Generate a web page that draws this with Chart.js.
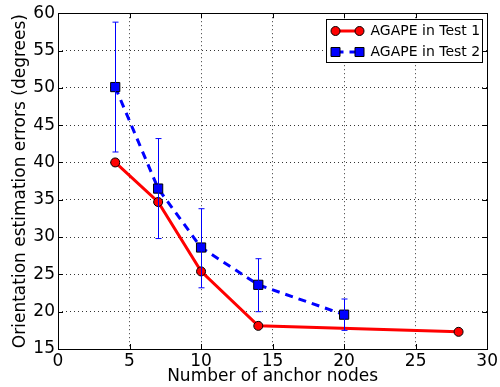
<!DOCTYPE html>
<html>
<head>
<meta charset="utf-8">
<script src="https://cdn.jsdelivr.net/npm/chart.js@4.4.1/dist/chart.umd.min.js"></script>
<style>
  html, body { margin: 0; padding: 0; background: #fff; }
  #wrap { width: 500px; height: 387px; }
</style>
</head>
<body>
<div id="wrap"><canvas id="c"></canvas></div>
<script>
// data
const test1X = [4, 7, 10, 14, 28];
const test1Y = [40.0, 34.7, 25.4, 18.1, 17.3];
const test2X = [4, 7, 10, 14, 20];
const test2Y = [50.1, 36.5, 28.6, 23.6, 19.6];
const test2Lo = [41.4, 29.8, 23.2, 20.0, 17.5];
const test2Hi = [58.8, 43.2, 33.8, 27.1, 21.7];
const xTicks = [0, 5, 10, 15, 20, 25, 30];
const yTicks = [15, 20, 25, 30, 35, 40, 45, 50, 55, 60];

const FONT = 'DejaVu Sans';

// error bars, inward ticks, frame and legend drawn on top
const extras = {
  id: 'extras',
  afterDatasetsDraw(chart) {
    const ctx = chart.ctx, xs = chart.scales.x, ys = chart.scales.y;
    ctx.save();
    // error bars
    ctx.strokeStyle = '#0000ff'; ctx.lineWidth = 1;
    test2X.forEach((x, i) => {
      const px = Math.round(xs.getPixelForValue(x)) + 0.5;
      const t = ys.getPixelForValue(test2Hi[i]), b = ys.getPixelForValue(test2Lo[i]);
      ctx.beginPath();
      ctx.moveTo(px, t); ctx.lineTo(px, b);
      ctx.moveTo(px - 3, t); ctx.lineTo(px + 3, t);
      ctx.moveTo(px - 3, b); ctx.lineTo(px + 3, b);
      ctx.stroke();
    });
    ctx.restore();
  },
  afterDraw(chart) {
    const ctx = chart.ctx, xs = chart.scales.x, ys = chart.scales.y;
    const a = chart.chartArea;
    ctx.save();
    ctx.strokeStyle = '#000'; ctx.lineWidth = 1;
    // ticks pointing in
    ctx.beginPath();
    xTicks.forEach(v => {
      const px = Math.round(xs.getPixelForValue(v)) + 0.5;
      ctx.moveTo(px, a.bottom); ctx.lineTo(px, a.bottom - 5);
      ctx.moveTo(px, a.top); ctx.lineTo(px, a.top + 5);
    });
    yTicks.forEach(v => {
      const py = Math.round(ys.getPixelForValue(v)) + 0.5;
      ctx.moveTo(a.left, py); ctx.lineTo(a.left + 5, py);
      ctx.moveTo(a.right, py); ctx.lineTo(a.right - 5, py);
    });
    ctx.stroke();
    // frame
    ctx.strokeRect(Math.round(a.left) + 0.5, Math.round(a.top) + 0.5,
      Math.round(a.right - a.left), Math.round(a.bottom - a.top));

    // legend
    const lx = 326.5, ly = 19.5, lw = 156, lh = 43;
    ctx.fillStyle = '#fff';
    ctx.fillRect(lx, ly, lw, lh);
    ctx.strokeRect(lx, ly, lw, lh);
    ctx.font = '14px ' + FONT;
    ctx.textBaseline = 'middle';
    chart.data.datasets.forEach((ds, i) => {
      const y = ly + 11.5 + i * 21;
      const x0 = lx + 9, x1 = lx + 33;
      ctx.strokeStyle = ds.borderColor; ctx.lineWidth = 3;
      ctx.setLineDash(ds.borderDash || []);
      ctx.beginPath(); ctx.moveTo(x0, y); ctx.lineTo(x1, y); ctx.stroke();
      ctx.setLineDash([]);
      ctx.lineWidth = 1; ctx.strokeStyle = '#000'; ctx.fillStyle = ds.pointBackgroundColor;
      [x0, x1].forEach(px => {
        ctx.beginPath();
        if (ds.pointStyle === 'rect') ctx.rect(px - 4.5, y - 4.5, 9, 9);
        else ctx.arc(px, y, 4.5, 0, Math.PI * 2);
        ctx.fill(); ctx.stroke();
      });
      ctx.fillStyle = '#000';
      ctx.fillText(ds.label, lx + 44, y + 0.5);
    });
    ctx.restore();
  }
};

new Chart(document.getElementById('c'), {
  type: 'line',
  data: {
    datasets: [
      {
        label: 'AGAPE in Test 1',
        data: test1X.map((x, i) => ({ x: x, y: test1Y[i] })),
        borderColor: '#ff0000', borderWidth: 3,
        pointStyle: 'circle', pointRadius: 4.5,
        pointBackgroundColor: '#ff0000', pointBorderColor: '#000', pointBorderWidth: 1,
        tension: 0, order: 2
      },
      {
        label: 'AGAPE in Test 2',
        data: test2X.map((x, i) => ({ x: x, y: test2Y[i] })),
        borderColor: '#0000ff', borderWidth: 3, borderDash: [8, 6],
        pointStyle: 'rect', pointRadius: 6.5,
        pointBackgroundColor: '#0000ff', pointBorderColor: '#000', pointBorderWidth: 1,
        tension: 0, order: 1
      }
    ]
  },
  options: {
    responsive: true,
    maintainAspectRatio: false,
    animation: false,
    layout: { padding: { top: 13, right: 12, left: 0, bottom: 0 } },
    plugins: { legend: { display: false }, tooltip: { enabled: false } },
    scales: {
      x: {
        type: 'linear', min: 0, max: 30,
        afterBuildTicks: s => { s.ticks = xTicks.map(v => ({ value: v })); },
        afterFit: s => { s.height = 38; },
        grid: { color: '#000', lineWidth: 0.8, drawTicks: false },
        border: { display: false, dash: [1, 3] },
        ticks: { color: '#000', padding: 2, font: { family: FONT, size: 17 } },
        title: { display: true, text: 'Number of anchor nodes', color: '#000', padding: 0,
                 font: { family: FONT, size: 17 } }
      },
      y: {
        type: 'linear', min: 15, max: 60,
        afterBuildTicks: s => { s.ticks = yTicks.map(v => ({ value: v })); },
        afterFit: s => { s.width = 58; },
        grid: { color: '#000', lineWidth: 0.8, drawTicks: false },
        border: { display: false, dash: [1, 3] },
        ticks: { color: '#000', padding: 3, font: { family: FONT, size: 17 } },
        title: { display: true, text: 'Orientation estimation errors (degrees)', color: '#000',
                 padding: { top: 10, bottom: 0 }, font: { family: FONT, size: 17 } }
      }
    }
  },
  plugins: [extras]
});
</script>
</body>
</html>
